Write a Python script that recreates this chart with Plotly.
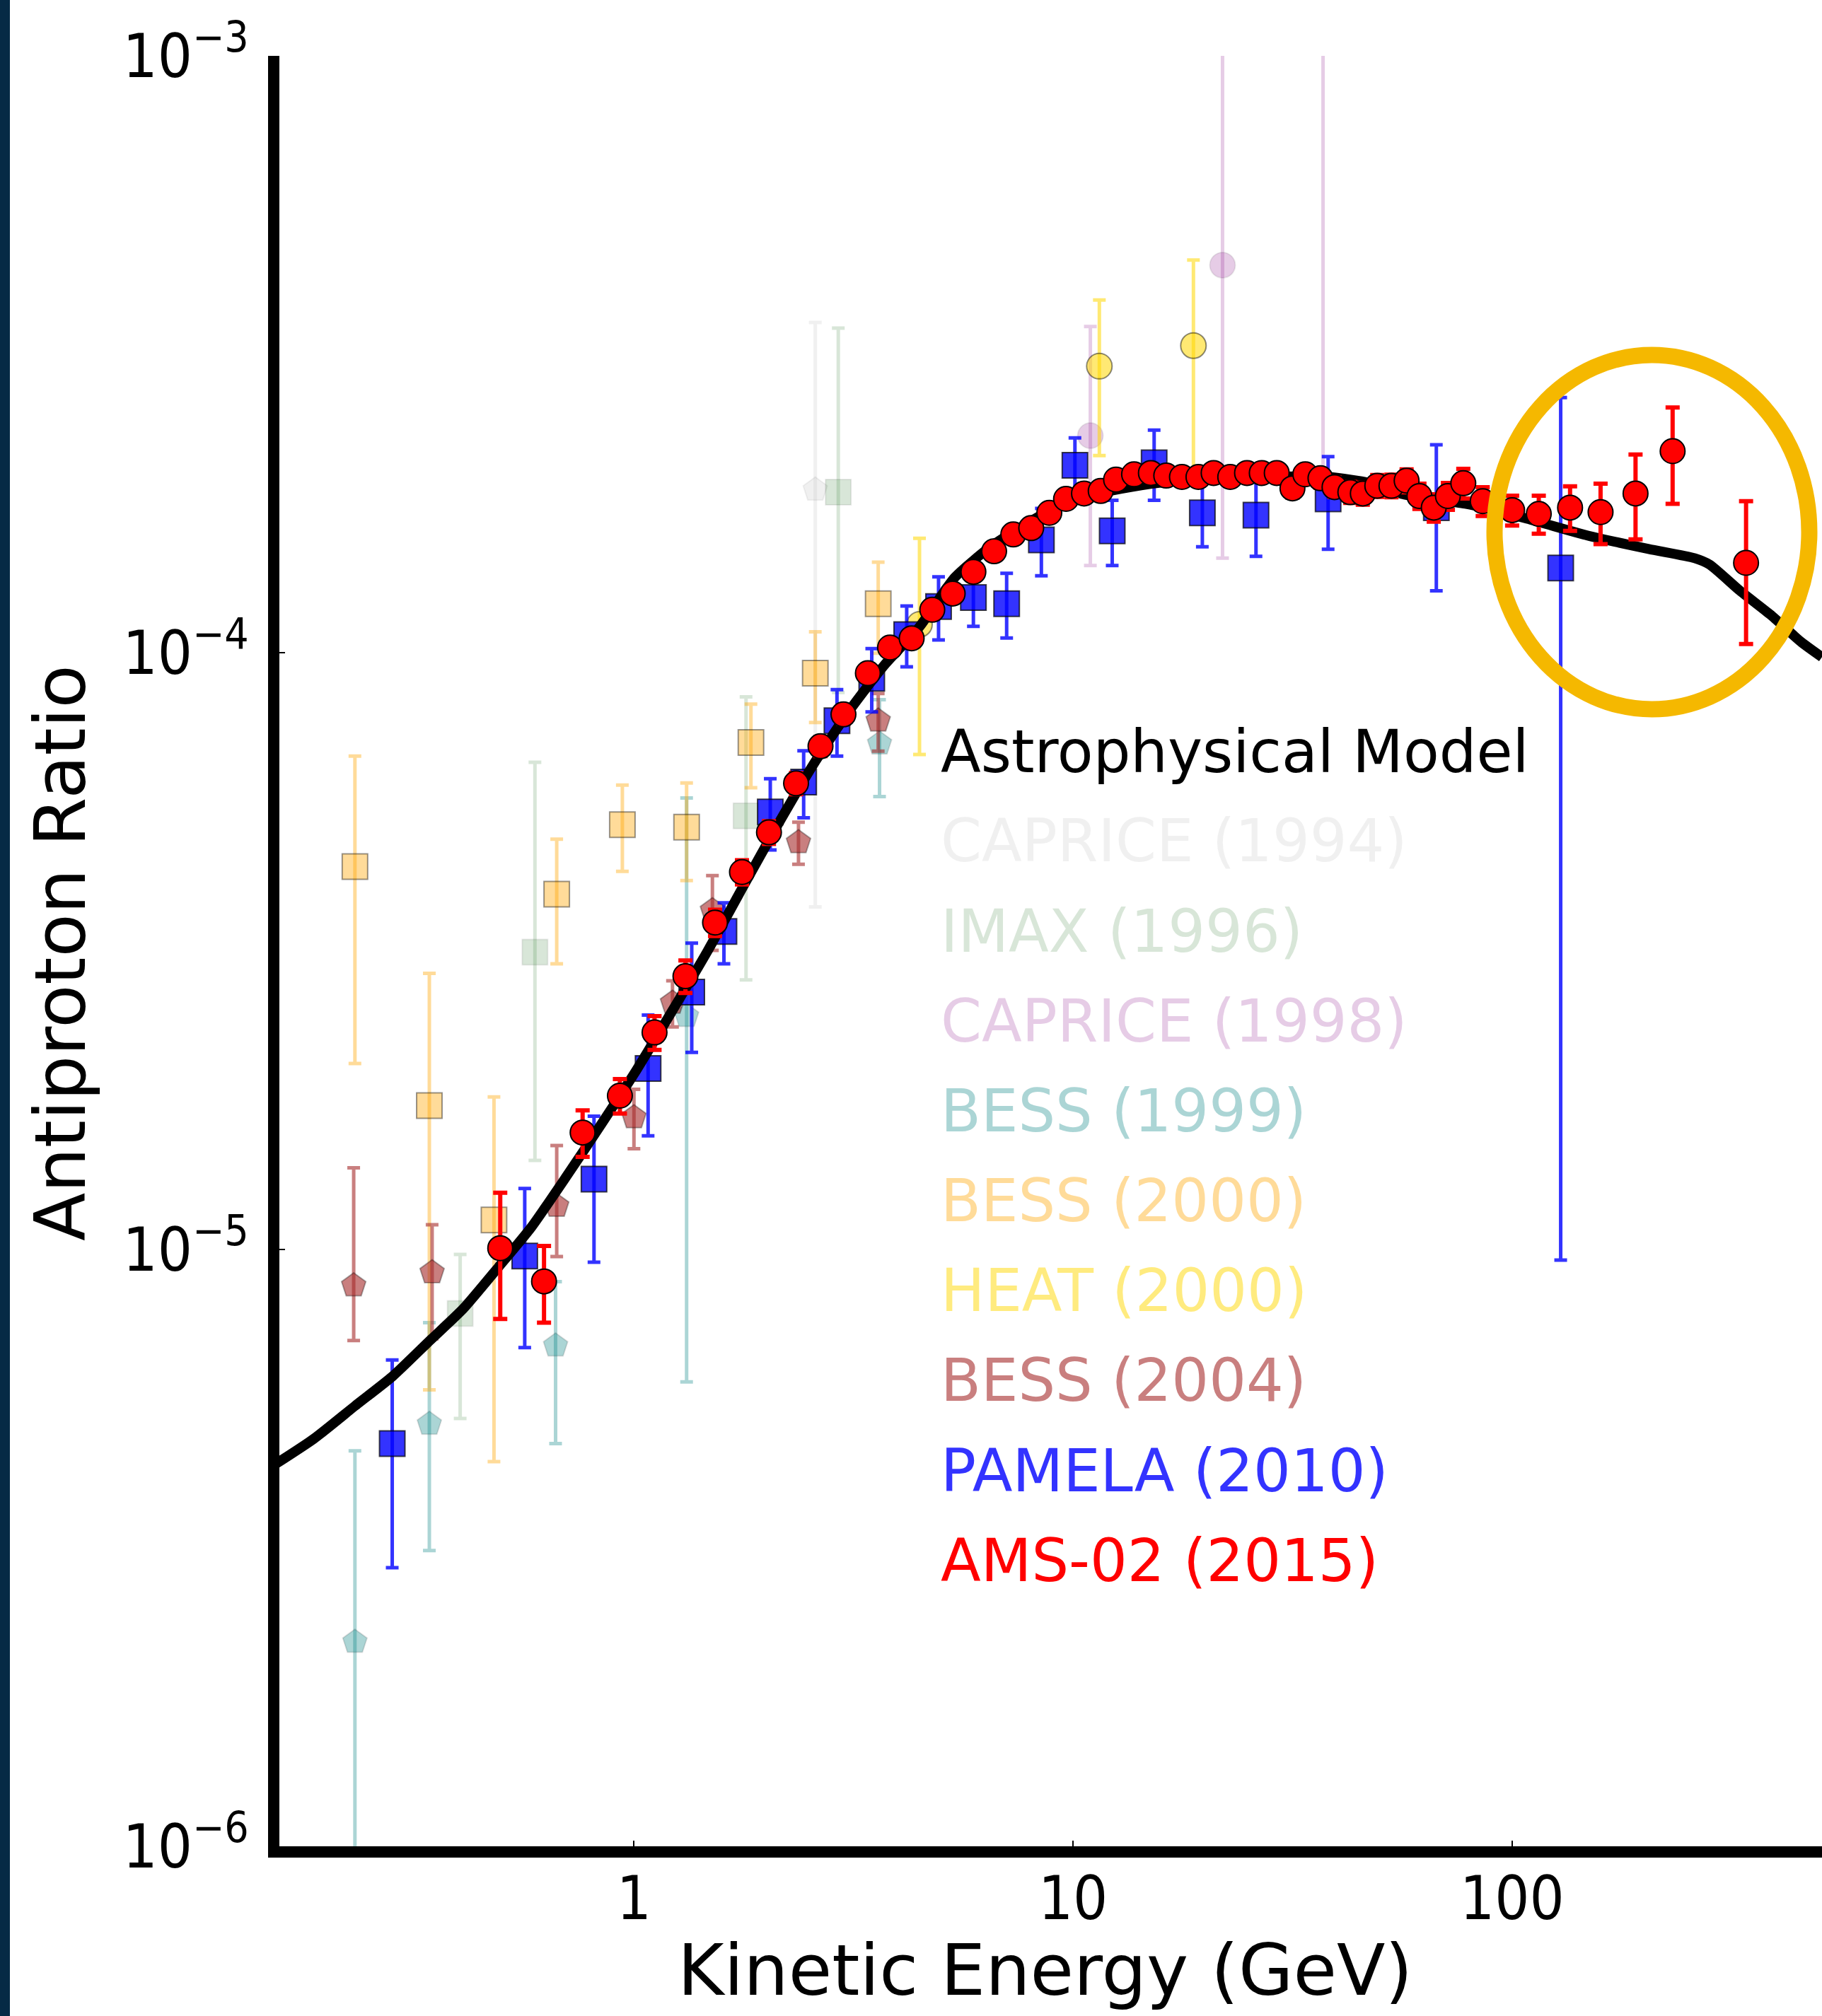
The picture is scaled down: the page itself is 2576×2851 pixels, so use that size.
import plotly.graph_objects as go

# ---- data ----
model_e = [0.1512, 0.1868, 0.2317, 0.282, 0.3445, 0.4087, 0.4918, 0.5834, 0.7049, 0.842,
           1.014, 1.22, 1.469, 1.768, 2.129, 2.563, 3.085, 3.713, 4.47, 5.38,
           6.48, 7.80, 9.39, 11.3, 13.6, 16.4, 19.7, 28.6, 37.0, 46.2,
           56.9, 78.3, 108.1, 148.8, 204.6, 260.4, 281.6, 330.2, 387.3, 456, 507.7]
model_r = [4.35e-6, 4.82e-6, 5.47e-6, 6.13e-6, 7.06e-6, 7.96e-6, 9.35e-6, 1.089e-5, 1.332e-5, 1.62e-5,
           2.0e-5, 2.505e-5, 3.157e-5, 4.04e-5, 5.16e-5, 6.5e-5, 7.97e-5, 9.52e-5, 1.105e-4, 1.337e-4,
           1.504e-4, 1.641e-4, 1.771e-4, 1.845e-4, 1.896e-4, 1.932e-4, 1.948e-4, 1.97e-4, 1.975e-4, 1.932e-4,
           1.84e-4, 1.776e-4, 1.677e-4, 1.571e-4, 1.492e-4, 1.44e-4, 1.405e-4, 1.27e-4, 1.158e-4, 1.041e-4, 9.83e-5]

ams_e = [0.496, 0.624, 0.764, 0.929, 1.114, 1.31, 1.53, 1.762, 2.03, 2.34,
         2.66, 3.0, 3.41, 3.83, 4.29, 4.78, 5.32, 5.93, 6.61, 7.31,
         8.03, 8.83, 9.64, 10.59, 11.56, 12.53, 13.77, 15.04, 16.3, 17.7,
         19.3, 20.9, 22.8, 24.9, 26.9, 29.1, 31.6, 33.8, 36.6, 39.4,
         42.8, 45.7, 49.3, 53.1, 57.5, 61.5, 66.3, 71.4, 77.4, 85.7,
         100, 115, 135.5, 159, 191, 232, 341]
ams_r = [1.005e-5, 8.84e-6, 1.57e-5, 1.81e-5, 2.31e-5, 2.87e-5, 3.53e-5, 4.29e-5, 5.0e-5, 6.04e-5,
         6.97e-5, 7.88e-5, 9.24e-5, 1.02e-4, 1.057e-4, 1.18e-4, 1.256e-4, 1.366e-4, 1.479e-4, 1.578e-4,
         1.617e-4, 1.715e-4, 1.81e-4, 1.848e-4, 1.866e-4, 1.95e-4, 1.99e-4, 2.0e-4, 1.98e-4, 1.97e-4,
         1.97e-4, 2.0e-4, 1.97e-4, 2.0e-4, 2.0e-4, 2.0e-4, 1.885e-4, 1.99e-4, 1.96e-4, 1.894e-4,
         1.857e-4, 1.848e-4, 1.904e-4, 1.904e-4, 1.942e-4, 1.83e-4, 1.75e-4, 1.83e-4, 1.923e-4, 1.794e-4,
         1.733e-4, 1.708e-4, 1.75e-4, 1.72e-4, 1.848e-4, 2.176e-4, 1.414e-4]
ams_err = [2.4e-6, 1.3e-6, 1.4e-6, 1.2e-6, 1.5e-6, 1.8e-6, 1.8e-6, 2.0e-6, 2.2e-6, 2.5e-6,
           2.6e-6, 2.8e-6, 3.0e-6, 3.2e-6, 3.3e-6, 3.5e-6, 3.6e-6, 3.8e-6, 4.0e-6, 4.1e-6,
           4.2e-6, 4.4e-6, 4.6e-6, 4.7e-6, 4.8e-6, 5.0e-6, 5.1e-6, 5.2e-6, 5.3e-6, 5.4e-6,
           5.5e-6, 5.7e-6, 5.8e-6, 6.0e-6, 6.2e-6, 6.4e-6, 6.6e-6, 6.8e-6, 7.0e-6, 7.2e-6,
           7.5e-6, 7.8e-6, 8.0e-6, 8.3e-6, 8.6e-6, 8.9e-6, 9.2e-6, 9.5e-6, 1.1e-5, 1.0e-5,
           1.0e-5, 1.25e-5, 1.5e-5, 2.0e-5, 3.0e-5, 4.0e-5, 3.8e-5]

pamela_e = [0.2815, 0.564, 0.811, 1.077, 1.354, 1.603, 2.044, 2.435, 2.90, 3.48,
            4.18, 4.94, 5.93, 7.06, 8.47, 10.1, 12.28, 15.3, 19.7, 26.1,
            38.1, 67.2, 129]
pamela_r = [4.73e-6, 9.75e-6, 1.312e-5, 2.01e-5, 2.70e-5, 3.41e-5, 5.41e-5, 6.07e-5, 7.69e-5, 9.06e-5,
            1.072e-4, 1.195e-4, 1.237e-4, 1.208e-4, 1.545e-4, 2.06e-4, 1.60e-4, 2.08e-4, 1.715e-4, 1.70e-4,
            1.81e-4, 1.75e-4, 1.386e-4]
pamela_err = [1.8e-6, 2.9e-6, 3.6e-6, 4.6e-6, 5.6e-6, 4.0e-6, 7.4e-6, 7.8e-6, 9.8e-6, 1.1e-5,
              1.25e-5, 1.45e-5, 1.3e-5, 1.5e-5, 2.0e-5, 2.3e-5, 2.0e-5, 2.8e-5, 2.1e-5, 2.5e-5,
              3.2e-5, 4.8e-5, 1.29e-4]

bess00_e = [0.2315, 0.342, 0.480, 0.667, 0.941, 1.318, 1.847, 2.588, 3.60]
bess00_r = [4.38e-5, 1.742e-5, 1.121e-5, 3.94e-5, 5.15e-5, 5.10e-5, 7.07e-5, 9.24e-5, 1.208e-4]
bess00_err = [2.33e-5, 1.16e-5, 6.8e-6, 9.3e-6, 8.5e-6, 9.5e-6, 1.13e-5, 1.6e-5, 2.1e-5]

heat_e = [4.47, 11.48, 18.8]
heat_r = [1.115e-4, 3.02e-4, 3.27e-4]
heat_err = [4.4e-5, 8.8e-5, 1.28e-4]

caprice98_e = [10.95, 21.9, 37.1]
caprice98_r = [2.31e-4, 4.46e-4, 1.2e-3]
caprice98_up = [1.21e-4, 6.0e-4, 1.0e-3]
caprice98_dn = [9.1e-5, 3.02e-4, 1.0e-3]

caprice94_e = [2.588]
caprice94_r = [1.875e-4]
caprice94_up = [1.7e-4]
caprice94_dn = [1.5e-4]

imax_e = [0.402, 0.595, 1.80, 2.92]
imax_r = [7.81e-6, 3.15e-5, 5.33e-5, 1.858e-4]
imax_up = [2.0e-6, 3.4e-5, 3.1e-5, 1.64e-4]
imax_dn = [2.6e-6, 1.74e-5, 2.5e-5, 1.0e-4]

bess99_e = [0.2315, 0.342, 0.663, 1.318, 3.625]
bess99_r = [2.2e-6, 5.10e-6, 6.9e-6, 2.46e-5, 7.04e-5]
bess99_up = [2.4e-6, 2.44e-6, 1.93e-6, 3.25e-5, 1.3e-5]
bess99_dn = [2.19e-6, 1.97e-6, 2.17e-6, 1.86e-5, 1.3e-5]

bess04_e = [0.230, 0.347, 0.667, 1.0, 1.224, 1.509, 2.37, 3.60]
bess04_r = [8.7e-6, 9.15e-6, 1.183e-5, 1.665e-5, 2.59e-5, 3.70e-5, 4.81e-5, 7.69e-5]
bess04_up = [5.0e-6, 1.85e-6, 3.1e-6, 1.9e-6, 2.3e-6, 5.3e-6, 3.9e-6, 8.5e-6]
bess04_dn = [1.66e-6, 2.07e-6, 2.1e-6, 1.9e-6, 2.3e-6, 5.3e-6, 3.9e-6, 8.5e-6]

legend_names = ["Astrophysical Model", "CAPRICE (1994)", "IMAX (1996)", "CAPRICE (1998)",
                "BESS (1999)", "BESS (2000)", "HEAT (2000)", "BESS (2004)",
                "PAMELA (2010)", "AMS-02 (2015)"]
legend_colors = ["#000000", "rgba(200,200,200,0.28)", "rgba(60,130,60,0.2)", "rgba(128,0,128,0.2)",
                 "rgba(0,128,128,0.33)", "rgba(255,165,0,0.4)", "rgba(255,215,0,0.5)",
                 "rgba(165,42,42,0.6)", "rgba(0,0,255,0.8)", "#ff0000"]

# ---- pixel layout helpers ----
L, T, R_EDGE, B = 395, 79, 2576, 2611
W, H = R_EDGE - L, B - T


def px(x):
    return (x - L) / W


def py(y):
    return 1 - (y - T) / H


fig = go.Figure()


def data_trace(x, y, up, dn, color, symbol, edge, size=36, thick=5, cap=9):
    fig.add_trace(go.Scatter(
        x=x, y=y, mode="markers", showlegend=False,
        marker=dict(symbol=symbol, size=size, color=color, line=dict(color=edge, width=2)),
        error_y=dict(type="data", symmetric=False, array=up, arrayminus=dn,
                     color=color, thickness=thick, width=cap),
    ))


data_trace(caprice94_e, caprice94_r, caprice94_up, caprice94_dn, "rgba(200,200,200,0.28)", "pentagon", "rgba(0,0,0,0.05)")
data_trace(imax_e, imax_r, imax_up, imax_dn, "rgba(60,130,60,0.2)", "square", "rgba(0,0,0,0.08)")
data_trace(caprice98_e, caprice98_r, caprice98_up, caprice98_dn, "rgba(128,0,128,0.2)", "circle", "rgba(0,0,0,0.08)")
data_trace(bess99_e, bess99_r, bess99_up, bess99_dn, "rgba(0,128,128,0.33)", "pentagon", "rgba(0,0,0,0.12)")
data_trace(bess00_e, bess00_r, bess00_err, bess00_err, "rgba(255,165,0,0.4)", "square", "rgba(0,0,0,0.4)")
data_trace(heat_e, heat_r, heat_err, heat_err, "rgba(255,215,0,0.55)", "circle", "rgba(0,0,0,0.45)")
data_trace(bess04_e, bess04_r, bess04_up, bess04_dn, "rgba(165,42,42,0.6)", "pentagon", "rgba(0,0,0,0.3)")
data_trace(pamela_e, pamela_r, pamela_err, pamela_err, "rgba(0,0,255,0.8)", "square", "rgba(0,0,0,0.7)")

fig.add_trace(go.Scatter(x=model_e, y=model_r, mode="lines", showlegend=False,
                         line=dict(color="black", width=14, shape="spline", smoothing=0.6)))

data_trace(ams_e, ams_r, ams_err, ams_err, "#ff0000", "circle", "#000000", size=35, thick=6, cap=10)

# legend drawn as coloured text, like the original
legend_y = [1063, 1190, 1317, 1444, 1571, 1698, 1825, 1952, 2080, 2207]
for name, col, yy in zip(legend_names, legend_colors, legend_y):
    fig.add_annotation(text=name, x=px(1328), y=py(yy), xref="paper", yref="paper",
                       xanchor="left", yanchor="middle", showarrow=False,
                       font=dict(family="DejaVu Sans", size=83, color=col))

fig.add_annotation(text="Kinetic Energy (GeV)", x=px(1477), y=py(2787), xref="paper", yref="paper",
                   xanchor="center", yanchor="middle", showarrow=False,
                   font=dict(family="DejaVu Sans", size=100, color="black"))
fig.add_annotation(text="Antiproton Ratio", x=px(85), y=py(1348), xref="paper", yref="paper",
                   xanchor="center", yanchor="middle", showarrow=False, textangle=-90,
                   font=dict(family="DejaVu Sans", size=100, color="black"))

# highlight ellipse around the high energy AMS points
fig.add_shape(type="circle", xref="paper", yref="paper",
              x0=px(2113), x1=px(2558), y0=py(1003), y1=py(502),
              line=dict(color="#F5B800", width=23))
# dark slide edge on the left
fig.add_shape(type="rect", xref="paper", yref="paper",
              x0=px(0), x1=px(14), y0=py(2851), y1=py(0),
              line=dict(width=0), fillcolor="#062a45")

tick_font = dict(family="DejaVu Sans Condensed, Liberation Sans Narrow, DejaVu Sans", size=86, color="black")
fig.update_xaxes(type="log", range=[-0.8075, 2.7057],
                 tickvals=[1, 10, 100], ticktext=["1", "10", "100"],
                 ticks="inside", ticklen=8, tickwidth=1.5, tickcolor="black",
                 showline=True, linewidth=16, linecolor="black", ticklabelstandoff=-16,
                 showgrid=False, zeroline=False, tickfont=tick_font)
fig.update_yaxes(type="log", range=[-6, -3],
                 tickvals=[1e-6, 1e-5, 1e-4, 1e-3],
                 ticktext=["10<sup>−6</sup>", "10<sup>−5</sup>", "10<sup>−4</sup>", "10<sup>−3</sup>"],
                 ticks="inside", ticklen=8, tickwidth=1.5, tickcolor="black",
                 showline=True, linewidth=16, linecolor="black", ticklabelstandoff=10,
                 showgrid=False, zeroline=False, tickfont=tick_font)

fig.update_layout(width=2576, height=2851,
                  margin=dict(l=L, r=0, t=T, b=2851 - B, pad=0),
                  paper_bgcolor="white", plot_bgcolor="white", showlegend=False)

# the page body has a default 8px margin; drop it so the figure sits at the corner
fig.write_html("out.html", config={"displayModeBar": False},
               post_script="document.body.style.margin='0px';")
